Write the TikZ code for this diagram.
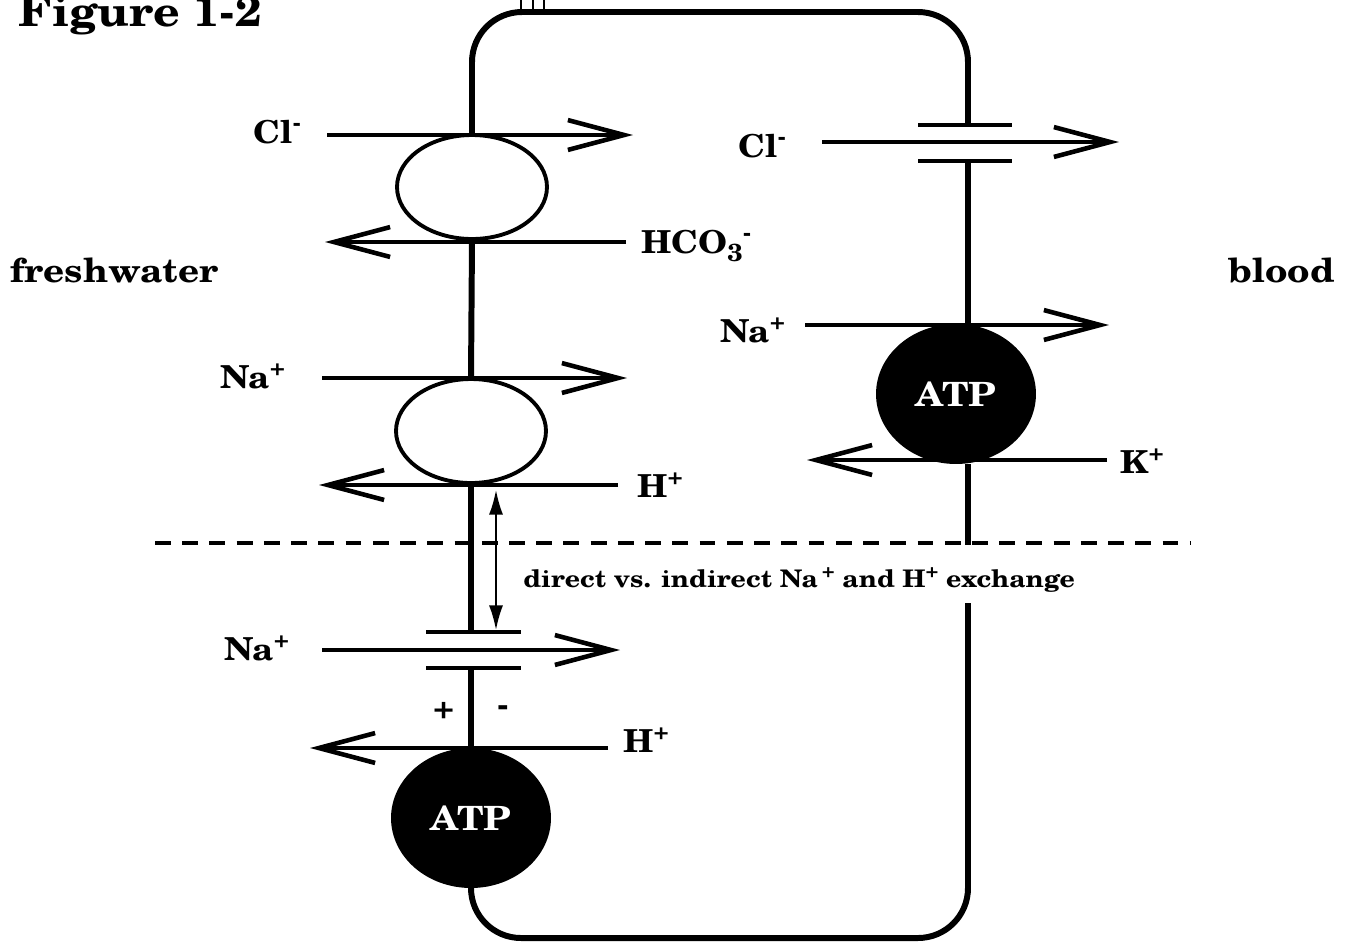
\documentclass[tikz,border=0pt]{standalone}
\usepackage{fontspec}
\setmainfont{TeX Gyre Schola}[FakeStretch=1.1]
\usetikzlibrary{arrows.meta,shapes.geometric}
\newcommand\ionsup[1]{\raisebox{0.4em}{\fontsize{13}{13}\selectfont #1}}
\newcommand\ionsub[1]{\raisebox{-0.28em}{\fontsize{14}{14}\selectfont #1}}
\begin{document}
\begin{tikzpicture}[x=0.02cm,y=-0.02cm,
  wall/.style={line width=3.4pt},
  plate/.style={line width=2.4pt},
  ionarrow/.style={line width=2.3pt,-{Straight Barb[length=32pt,width=17pt,line width=2.6pt]}},
  ion/.style={font=\fontsize{18}{20}\selectfont\bfseries,inner sep=0pt},
  side/.style={font=\fontsize{19}{21}\selectfont\bfseries,inner sep=0pt},
  porter/.style={ellipse,draw,line width=2.2pt,minimum width=3cm,minimum height=2.08cm,inner sep=0pt},
  atp/.style={ellipse,fill=black,text=white,minimum width=3.2cm,minimum height=2.8cm,inner sep=0pt,font=\fontsize{19}{21}\selectfont\bfseries},
  sep/.style={line width=2.3pt,dash pattern=on 9pt off 6.5pt},
  span/.style={line width=1.1pt,{Latex[length=14pt,width=8pt]}-{Latex[length=14pt,width=8pt]}}
]
\useasboundingbox (0,0) rectangle (1349,944);

% title and sides
\node[anchor=base west,font=\fontsize{24}{26}\selectfont\bfseries,inner sep=0pt] (fig) at (18,26) {Figure 1-2};
\node[side,anchor=base west] (fw) at (10,282) {freshwater};
\node[side,anchor=base east] (bl) at (1335,282) {blood};

% transporters
\node[porter] (ex1) at (472,187) {};
\node[porter] (ex2) at (471,431) {};
\node[atp] (atpL) at (471,818) {ATP};
\node[atp] (atpR) at (956,394) {ATP};

% channel plates
\coordinate (lp1a) at (426,632); \coordinate (lp1b) at (521,632);
\coordinate (lp2a) at (426,668); \coordinate (lp2b) at (521,668);
\coordinate (rp1a) at (918,125); \coordinate (rp1b) at (1012,125);
\coordinate (rp2a) at (918,161); \coordinate (rp2b) at (1012,161);
\draw[plate] (lp1a) -- (lp1b);
\draw[plate] (lp2a) -- (lp2b);
\draw[plate] (rp1a) -- (rp1b);
\draw[plate] (rp2a) -- (rp2b);

% cell wall
\coordinate (rw1) at (968,125);
\coordinate (rw2) at (968,161);
\coordinate (rw3) at (968,545);
\coordinate (rw4) at (968,603);
\coordinate (lw1) at (471,632);
\coordinate (lw2) at (471,668);
\draw[wall,rounded corners=1cm] (ex1.north) -- (472,12) -- (968,12) -- (rw1);
\draw[wall] (ex1.south) -- (ex2.north);
\draw[wall] (ex2.south) -- (lw1);
\draw[wall] (lw2) -- (atpL.north);
\draw[wall,rounded corners=1cm] (atpL.south) -- (471,938) -- (968,938) -- (rw4);
\draw[wall] (rw2) -- (atpR.north -| rw2);
\draw[wall] (atpR.south -| rw2) -- (rw3);

% small marks at top
\draw[line width=1.2pt] (521,0) -- (521,12) (533,0) -- (533,12) (544,0) -- (544,12);

% ion arrows
\coordinate (a1s) at (327,135); \coordinate (a1e) at (633,135);
\coordinate (a2s) at (626,242); \coordinate (a2e) at (325,242);
\coordinate (a3s) at (322,378); \coordinate (a3e) at (627,378);
\coordinate (a4s) at (618,485); \coordinate (a4e) at (319,485);
\coordinate (a5s) at (322,650); \coordinate (a5e) at (620,650);
\coordinate (a6s) at (608,748); \coordinate (a6e) at (310,748);
\coordinate (a7s) at (822,142); \coordinate (a7e) at (1119,142);
\coordinate (a8s) at (805,325); \coordinate (a8e) at (1109,325);
\coordinate (a9s) at (1107,460); \coordinate (a9e) at (807,460);
\draw[ionarrow] (a1s) -- (a1e);
\draw[ionarrow] (a2s) -- (a2e);
\draw[ionarrow] (a3s) -- (a3e);
\draw[ionarrow] (a4s) -- (a4e);
\draw[ionarrow] (a5s) -- (a5e);
\draw[ionarrow] (a6s) -- (a6e);
\draw[ionarrow] (a7s) -- (a7e);
\draw[ionarrow] (a8s) -- (a8e);
\draw[ionarrow] (a9s) -- (a9e);

% ion labels
\node[ion,anchor=base west] (l1) at (253,143) {Cl\ionsup{-}};
\node[ion,anchor=base west] (l2) at (641,253) {HCO\ionsub{3}\ionsup{-}};
\node[ion,anchor=base west] (l3) at (220,388) {Na\ionsup{+}};
\node[ion,anchor=base west] (l4) at (637,497) {H\ionsup{+}};
\node[ion,anchor=base west] (l5) at (224,660) {Na\ionsup{+}};
\node[ion,anchor=base west] (l6) at (623,752) {H\ionsup{+}};
\node[ion,anchor=base west] (l7) at (738,157) {Cl\ionsup{-}};
\node[ion,anchor=base west] (l8) at (720,342) {Na\ionsup{+}};
\node[ion,anchor=base west] (l9) at (1120,473) {K\ionsup{+}};
\node[ion] (plus) at (444,711) {+};
\node[ion] (minus) at (503,711) {-};

% separator and note
\coordinate (d1) at (155,543); \coordinate (d2) at (1190,543);
\draw[sep] (d1) -- (d2);
\coordinate (s1) at (496,490); \coordinate (s2) at (496,630);
\draw[span] (s1) -- (s2);
\node[anchor=base west,inner sep=0pt,font=\fontsize{13.8}{15}\selectfont\bfseries] (note) at (523,587) {direct vs. indirect Na\,\raisebox{0.4em}{\fontsize{11}{11}\selectfont +} and H\raisebox{0.4em}{\fontsize{11}{11}\selectfont +} exchange};
\end{tikzpicture}
\end{document}
